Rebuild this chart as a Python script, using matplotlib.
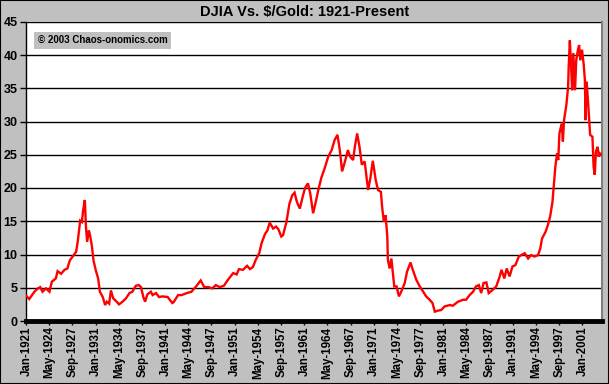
import matplotlib
matplotlib.use("Agg")
import matplotlib.pyplot as plt
import numpy as np

plt.rcParams['font.family'] = ['Liberation Sans', 'DejaVu Sans']

# month index counted from Jan-1921, ratio DJIA / gold price
months = [0, 5, 14, 20, 24, 28, 34, 40, 44, 51, 54, 60, 66, 71, 75, 80, 86, 89, 93, 96,
          98, 101, 103, 105, 108, 110, 113, 116, 120, 124, 127, 132, 136, 139, 143, 146,
          150, 156, 160, 166, 172, 178, 183, 189, 194, 198, 202, 205, 209, 215, 218, 224,
          229, 235, 244, 252, 254, 262, 268, 277, 285, 293, 301, 307, 314, 321, 327, 334,
          341, 348, 357, 363, 367, 374, 381, 386, 391, 396, 402, 406, 412, 416, 420, 426,
          431, 435, 440, 443, 449, 454, 459, 463, 467, 472, 477, 481, 486, 490, 495, 499,
          504, 509, 515, 521, 527, 532, 537, 541, 545, 550, 555, 559, 564, 567, 571, 575,
          579, 584, 587, 590, 594, 598, 603, 607, 612, 614, 617, 620, 623, 624, 627, 630,
          635, 639, 643, 647, 653, 657, 663, 667, 673, 679, 685, 690, 696, 701, 705, 710,
          716, 722, 731, 736, 745, 754, 759, 765, 771, 776, 781, 785, 789, 794, 798, 805,
          811, 817, 820, 825, 829, 834, 839, 844, 850, 854, 860, 866, 871, 877, 883, 887,
          890, 896, 900, 904, 908, 910, 913, 916, 918, 920, 924, 926, 928, 932, 935, 936,
          938, 940, 942, 944, 947, 949, 952, 954, 956, 959, 962, 964, 965, 967, 970, 973,
          977, 979, 981, 983, 986, 988, 990, 993]
ratio = [3.8, 3.3, 4.4, 4.9, 5.1, 4.4, 4.9, 4.4, 5.9, 6.4, 7.5, 7.1, 7.7, 7.9, 9.1, 9.7,
         10.4, 12.1, 15.1, 14.9, 16.6, 18.2, 14.1, 11.9, 13.6, 12.9, 11.4, 9.1, 7.6, 6.4,
         4.4, 3.6, 2.4, 2.9, 2.6, 4.6, 3.4, 2.9, 2.5, 2.9, 3.4, 4.2, 4.4, 5.3, 5.4, 5.1,
         3.6, 2.9, 4.0, 4.4, 3.9, 4.2, 3.6, 3.7, 3.6, 2.7, 2.8, 3.9, 3.9, 4.2, 4.4, 5.2,
         6.1, 5.1, 5.1, 4.9, 5.4, 5.1, 5.3, 6.2, 7.2, 7.0, 7.8, 7.7, 8.3, 7.8, 8.1, 9.2,
         10.2, 11.7, 13.1, 13.6, 14.8, 13.9, 14.2, 13.8, 12.7, 12.9, 14.9, 17.6, 18.9,
         19.3, 17.9, 16.9, 18.7, 20.0, 20.7, 19.2, 16.2, 17.7, 19.7, 21.5, 23.0, 24.7,
         25.7, 27.2, 28.0, 25.7, 22.5, 24.0, 25.7, 24.7, 24.2, 26.2, 28.2, 26.2, 23.5,
         24.0, 21.7, 19.7, 21.6, 24.1, 21.2, 19.7, 19.4, 17.2, 14.9, 15.9, 12.7, 9.2, 7.9,
         9.4, 5.2, 5.2, 3.7, 4.4, 5.7, 7.4, 8.8, 7.7, 6.2, 5.2, 4.4, 3.7, 3.2, 2.7, 1.4,
         1.55, 1.65, 2.2, 2.4, 2.3, 2.9, 3.2, 3.2, 3.9, 4.4, 5.2, 5.4, 4.2, 5.7, 5.8, 4.2,
         4.7, 5.2, 6.7, 7.7, 6.4, 7.9, 6.7, 8.2, 8.4, 9.7, 9.9, 10.2, 9.4, 9.9, 9.7, 9.9,
         10.9, 12.4, 13.4, 14.4, 15.7, 17.9, 20.0, 23.2, 25.2, 24.2, 28.2, 29.7, 27.0,
         30.2, 32.5, 35.2, 38.2, 42.2, 38.7, 34.7, 40.3, 34.7, 39.2, 40.8, 41.5, 39.2,
         40.8, 38.5, 36.2, 30.2, 36.0, 32.2, 28.0, 27.7, 23.2, 22.0, 25.5, 26.2, 24.7,
         25.2, 25.0]

tick_pos = list(range(0, 961, 40))
tick_labels = ["Jan-1921", "May-1924", "Sep-1927", "Jan-1931", "May-1934", "Sep-1937",
               "Jan-1941", "May-1944", "Sep-1947", "Jan-1951", "May-1954", "Sep-1957",
               "Jan-1961", "May-1964", "Sep-1967", "Jan-1971", "May-1974", "Sep-1977",
               "Jan-1981", "May-1984", "Sep-1987", "Jan-1991", "May-1994", "Sep-1997",
               "Jan-2001"]

grey = "#C0C0C0"
fig = plt.figure(figsize=(6.09, 3.84), dpi=100, facecolor=grey)
ax = fig.add_axes([26 / 609, 1 - 321 / 384, 576 / 609, (321 - 21.75) / 384])
ax.set_facecolor("white")

ax.plot(months, ratio, color="#FF0000", lw=1.7, solid_joinstyle="miter", zorder=3)

ax.set_xlim(-0.5, 993.5)
ax.set_ylim(0, 45)
ax.set_yticks(range(0, 46, 5))
ax.yaxis.grid(True, color="black", lw=1)
ax.set_axisbelow(True)

ax.set_xticks(tick_pos)
ax.set_xticklabels(tick_labels, rotation=90, fontsize=8.3, fontweight="bold")
ax.set_xticks(np.arange(-0.5, 994, 40), minor=True)
ax.tick_params(axis="x", which="major", length=0, pad=4)
ax.tick_params(axis="x", which="minor", length=3, width=1)
ax.tick_params(axis="y", length=4, width=1, labelsize=9, pad=2)
for t in ax.get_yticklabels():
    t.set_fontweight("bold")

ax.spines["top"].set_visible(False)
ax.spines["right"].set_color("#808080")
ax.spines["right"].set_linewidth(1.5)
ax.spines["left"].set_linewidth(1)
ax.spines["bottom"].set_linewidth(3.5)

ax.text(0.02, 0.955, "© 2003 Chaos-onomics.com", transform=ax.transAxes,
        fontsize=7, fontweight="bold", va="top", ha="left",
        bbox=dict(facecolor=grey, edgecolor="none", pad=2.5))

fig.text(0.5, 1 - 12 / 384, "DJIA Vs. $/Gold: 1921-Present", ha="center", va="center",
         fontsize=10.5, fontweight="bold")

fig.patches.append(plt.Rectangle((0, 0), 1, 1, transform=fig.transFigure, fill=False,
                                 edgecolor="black", lw=1.5))

fig.savefig("out.png", dpi=100, facecolor=grey)
